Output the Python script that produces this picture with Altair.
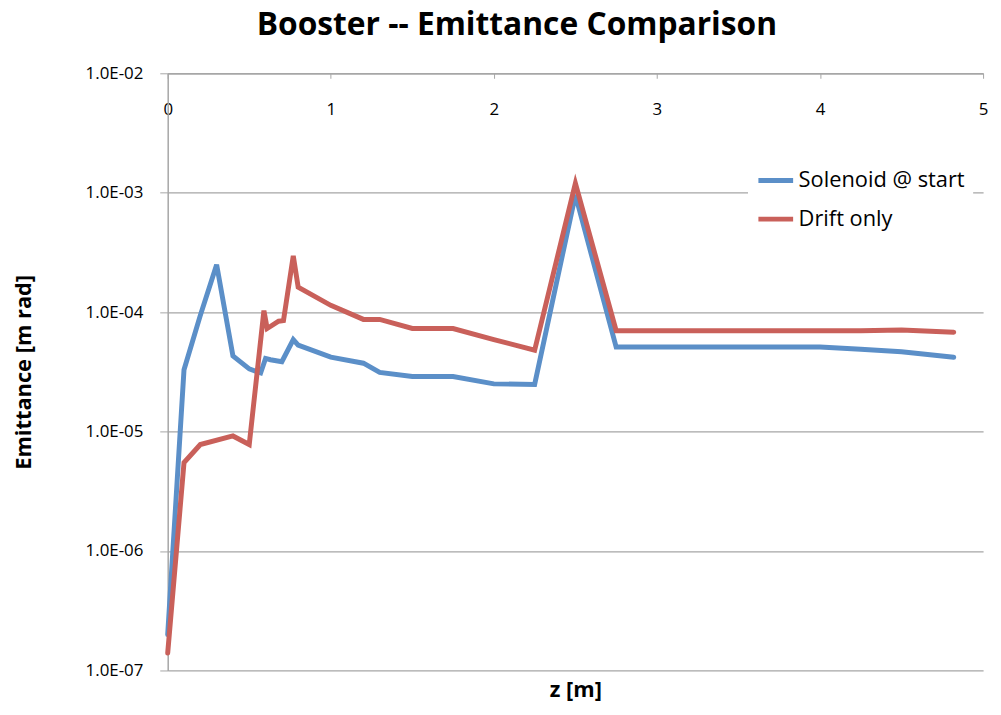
import altair as alt
import pandas as pd

# Solenoid @ start
z_sol = [0.0, 0.1, 0.2, 0.3, 0.4, 0.5, 0.57, 0.6, 0.63, 0.7, 0.77, 0.8, 1.0, 1.2, 1.3,
         1.5, 1.75, 2.0, 2.25, 2.5, 2.75, 3.0, 3.25, 3.5, 3.75, 4.0, 4.25, 4.5, 4.82]
e_sol = [2.0e-7, 3.3e-5, 9.4e-5, 2.5e-4, 4.3e-5, 3.35e-5, 3.1e-5, 4.1e-5, 4.0e-5, 3.85e-5,
         5.9e-5, 5.3e-5, 4.2e-5, 3.74e-5, 3.13e-5, 2.89e-5, 2.89e-5, 2.51e-5, 2.48e-5,
         9.6e-4, 5.1e-5, 5.1e-5, 5.1e-5, 5.1e-5, 5.1e-5, 5.1e-5, 4.9e-5, 4.67e-5, 4.2e-5]

# Drift only
z_drift = [0.0, 0.1, 0.2, 0.4, 0.5, 0.59, 0.61, 0.68, 0.71, 0.77, 0.8, 1.0, 1.2, 1.3,
           1.5, 1.75, 2.0, 2.25, 2.5, 2.75, 3.0, 3.25, 3.5, 3.75, 4.0, 4.25, 4.5, 4.82]
e_drift = [1.4e-7, 5.5e-6, 7.8e-6, 9.2e-6, 7.8e-6, 1.03e-4, 7.3e-5, 8.4e-5, 8.5e-5,
           2.96e-4, 1.62e-4, 1.14e-4, 8.7e-5, 8.7e-5, 7.3e-5, 7.3e-5, 5.9e-5, 4.8e-5,
           1.2e-3, 7.0e-5, 7.0e-5, 7.0e-5, 7.0e-5, 7.0e-5, 7.0e-5, 7.0e-5, 7.1e-5, 6.8e-5]

series_names = ["Solenoid @ start", "Drift only"]
series_colors = ["#5B8FC8", "#C9605A"]
x_ticks = [0, 1, 2, 3, 4, 5]
y_ticks = [1e-7, 1e-6, 1e-5, 1e-4, 1e-3, 1e-2]

rows = []
for i, (z, e) in enumerate(zip(z_sol, e_sol)):
    rows.append({"z": z, "emit": e, "series": series_names[0], "order": i})
for i, (z, e) in enumerate(zip(z_drift, e_drift)):
    rows.append({"z": z, "emit": e, "series": series_names[1], "order": i})
df = pd.DataFrame(rows)

W, H = 822, 602
FONT = "Open Sans"
GRID = "#a6a6a6"

chart = alt.Chart(df).mark_line(strokeWidth=5, strokeJoin="miter", strokeCap="round").encode(
    x=alt.X("z:Q",
            scale=alt.Scale(domain=[0, 5], nice=False, zero=False),
            axis=alt.Axis(orient="bottom", offset=-H, values=x_ticks, grid=False,
                          tickSize=5, tickColor=GRID, domainColor=GRID, domainWidth=1.5,
                          labelFontSize=17, labelFont=FONT, labelColor="#000",
                          labelPadding=24, labelFlush=False,
                          title="z [m]", titleFont=FONT, titleFontSize=22,
                          titleFontWeight="bold", titleColor="#000",
                          titleY=H + 19, titleBaseline="middle")),
    y=alt.Y("emit:Q",
            scale=alt.Scale(type="log", domain=[1e-7, 1e-2], nice=False),
            axis=alt.Axis(values=y_ticks, grid=True, gridColor=GRID, gridWidth=1.2,
                          tickSize=8, tickColor=GRID, domainColor=GRID, domainWidth=1.5,
                          labelExpr="'1.0E-0' + abs(round(log(datum.value) / LN10))",
                          labelFontSize=17, labelFont=FONT, labelColor="#000",
                          labelPadding=17,
                          title="Emittance [m rad]", titleFont=FONT, titleFontSize=22,
                          titleFontWeight="bold", titleColor="#000",
                          titleX=-145, titleY=H / 2, titleAngle=-90,
                          titleAlign="center", titleBaseline="middle")),
    color=alt.Color("series:N",
                    scale=alt.Scale(domain=series_names, range=series_colors),
                    legend=alt.Legend(orient="none", legendX=585, legendY=80, title=None,
                                      symbolType="stroke", symbolSize=1225,
                                      symbolStrokeWidth=5, labelFontSize=22,
                                      labelLimit=400,
                                      labelFont=FONT, labelColor="#000", labelOffset=3,
                                      rowPadding=8, padding=8, fillColor="white")),
    order="order:Q",
).properties(
    width=W, height=H,
    title=alt.TitleParams("Booster -- Emittance Comparison", font=FONT, fontSize=32,
                          fontWeight="bold", color="#000", anchor="middle", dx=-59,
                          offset=23),
    autosize=alt.AutoSizeParams(type="none"),
    padding={"left": 161, "top": 63, "right": 10, "bottom": 36},
).configure_view(stroke=None)

chart.save("out.html", embed_options={"renderer": "svg", "actions": False})
